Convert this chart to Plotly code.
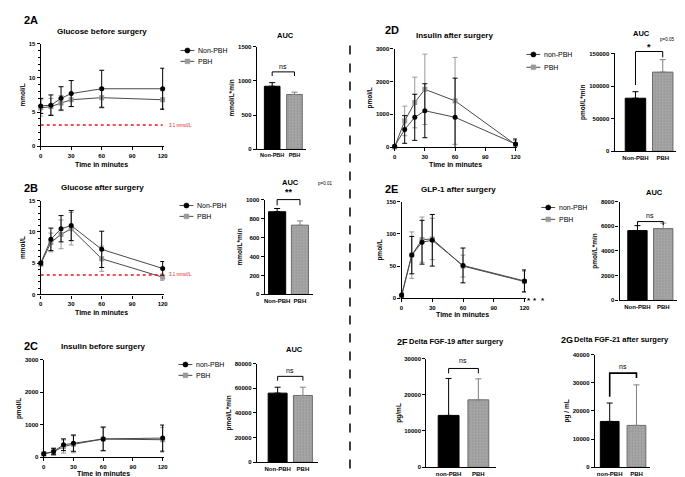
import plotly.graph_objects as go

W, H = 685, 477
FONT = "Arial"

# ---------------- data ----------------
time_min = [0, 10, 20, 30, 60, 120]
bar_labels_upper = ["Non-PBH", "PBH"]
bar_labels_lower = ["non-PBH", "PBH"]

# 2A glucose before surgery (mmol/L)
glu_pre_non = [5.9, 6.0, 7.0, 7.7, 8.4, 8.4]
glu_pre_non_sd = [1.1, 1.5, 1.7, 1.9, 2.7, 3.0]
glu_pre_pbh = [5.6, 5.8, 6.3, 6.8, 7.1, 6.8]
glu_pre_pbh_sd = [1.2, 1.2, 1.1, 1.0, 1.5, 1.3]
auc_glu_pre = [920, 800]
auc_glu_pre_sd = [53, 34]

# 2B glucose after surgery (mmol/L)
glu_post_non = [5.0, 8.8, 10.5, 11.0, 7.2, 4.15]
glu_post_non_sd = [0.3, 1.8, 2.1, 2.4, 2.9, 1.1]
glu_post_pbh = [4.85, 8.3, 9.6, 10.5, 5.7, 2.75]
glu_post_pbh_sd = [0.3, 1.5, 2.3, 2.6, 2.0, 0.5]
auc_glu_post = [872, 730]
auc_glu_post_sd = [34, 45]

# 2C insulin before surgery (pmol/L)
ins_pre_non = [110, 180, 385, 435, 565, 590]
ins_pre_non_sd = [50, 100, 180, 250, 365, 400]
ins_pre_pbh = [100, 170, 330, 400, 560, 540]
ins_pre_pbh_sd = [60, 100, 200, 260, 350, 380]
auc_ins_pre = [56000, 54100]
auc_ins_pre_sd = [4800, 6700]

# 2D insulin after surgery (pmol/L)
ins_post_non = [30, 540, 910, 1110, 910, 100]
ins_post_non_sd = [20, 420, 700, 820, 1190, 150]
ins_post_pbh = [10, 800, 1360, 1760, 1410, 80]
ins_post_pbh_sd = [10, 450, 770, 1070, 1320, 120]
auc_ins_post = [81300, 121400]
auc_ins_post_sd = [10000, 19100]

# 2E GLP-1 after surgery (pmol/L)
glp_non = [5, 67, 87, 90, 51, 27]
glp_non_sd = [3, 29, 34, 40, 27, 17]
glp_pbh = [3, 67, 91, 92, 50, 26]
glp_pbh_sd = [2, 36, 35, 32, 17, 16]
auc_glp = [5650, 5810]
auc_glp_sd = [400, 450]

# 2F / 2G delta FGF (pg/mL)
fgf19 = [14300, 18600]
fgf19_sd = [10200, 5800]
fgf21 = [16260, 14850]
fgf21_sd = [6540, 14400]

# ---------------- figure ----------------
fig = go.Figure()
layout = dict(width=W, height=H, margin=dict(l=0, r=0, t=0, b=0),
              paper_bgcolor="white", plot_bgcolor="white", showlegend=False,
              barmode="overlay", font=dict(family=FONT, color="black"))
shapes = []
annotations = []

BLACK = "black"
GREY = "#9a9a9a"


def px(x):
    return x / W


def py(y):
    return 1 - y / H


def sfx(i):
    return "" if i == 1 else str(i)


def base_axis(**kw):
    d = dict(showgrid=False, zeroline=False, showline=True, linecolor="black",
             linewidth=1.3, ticks="outside", ticklen=3, tickwidth=1.1,
             tickcolor="black",
             tickfont=dict(family=FONT, size=6, color="black", weight="bold"),
             fixedrange=True)
    d.update(kw)
    return d


def yticks(ymax, dtick):
    vals = []
    v = 0
    while v <= ymax + 1e-9:
        vals.append(v)
        v += dtick
    return dict(tickvals=vals, ticktext=[str(int(t)) for t in vals])


def text(x, y, s, size=7, bold=True, color="black", xanchor="center",
         yanchor="middle", angle=0):
    annotations.append(dict(x=px(x), y=py(y), xref="paper", yref="paper",
                            text=s, showarrow=False, xanchor=xanchor,
                            yanchor=yanchor, textangle=angle, borderpad=0,
                            font=dict(family=FONT, size=size, color=color,
                                      weight="bold" if bold else "normal")))


def ytitle(s):
    return dict(text=s, font=dict(family=FONT, size=6.5, weight="bold"),
                standoff=2)


def line_panel(i, x0, x120, yt, yb, ymax, dtick, ylab, series, minor=None,
               xlab_y=None):
    xr1 = 121.5
    x1 = x0 + (x120 - x0) * xr1 / 120
    s = sfx(i)
    xa = base_axis(domain=[px(x0), px(x1)], range=[0, xr1], anchor="y" + s,
                   tickvals=[0, 30, 60, 90, 120])
    ya = base_axis(domain=[py(yb), py(yt)], range=[0, ymax], anchor="x" + s,
                   title=ytitle(ylab), **yticks(ymax, dtick))
    if minor:
        ya["minor"] = dict(dtick=minor, ticks="outside", ticklen=1.5,
                           tickcolor="black", tickwidth=0.8)
    layout["xaxis" + s] = xa
    layout["yaxis" + s] = ya
    if xlab_y is not None:
        text((x0 + x120) / 2, xlab_y, "Time in minutes", size=7)
    for (name, y, sd, mcolor, symbol, ecolor) in series:
        fig.add_trace(go.Scatter(
            x=time_min, y=y, name=name, mode="lines+markers",
            error_y=dict(type="data", array=sd, color=ecolor, thickness=1,
                         width=2.5),
            line=dict(color="#4a4a4a", width=1),
            marker=dict(color=mcolor, symbol=symbol, size=5),
            xaxis="x" + s, yaxis="y" + s, cliponaxis=False))
    return dict(x0=x0, x1=x1, yt=yt, yb=yb, ymax=ymax, xr1=xr1)


def bar_panel(i, left, right, c0, c1, yt, yb, ymax, dtick, ylab, labels,
              vals, sds, width=0.75, lsize=6):
    sp = c1 - c0
    r0 = -(c0 - left) / sp
    r1 = 1 + (right - c1) / sp
    s = sfx(i)
    layout["xaxis" + s] = base_axis(domain=[px(left), px(right)],
                                    range=[r0, r1], anchor="y" + s,
                                    tickvals=[0, 1], ticktext=labels,
                                    ticks="", tickangle=0,
                                    tickfont=dict(family=FONT, size=lsize,
                                                  color="black",
                                                  weight="bold"))
    layout["yaxis" + s] = base_axis(domain=[py(yb), py(yt)], range=[0, ymax],
                                    anchor="x" + s, title=ytitle(ylab),
                                    **yticks(ymax, dtick))
    styles = [
        dict(color=BLACK, line=dict(color=BLACK, width=1)),
        dict(color="#a8a8a8", line=dict(color="#6a6a6a", width=1),
             pattern=dict(shape=".", fillmode="overlay", fgcolor="#7a7a7a",
                          size=3, solidity=0.3)),
    ]
    ecolors = [BLACK, "#808080"]
    for k in range(2):
        fig.add_trace(go.Bar(
            x=[k], y=[vals[k]], name=labels[k], width=width,
            marker=styles[k],
            error_y=dict(type="data", symmetric=False, array=[sds[k]],
                         arrayminus=[0], color=ecolors[k], thickness=1,
                         width=3),
            xaxis="x" + s, yaxis="y" + s, cliponaxis=False))
    return dict(c0=c0, sp=sp, yt=yt, yb=yb, ymax=ymax)


def bracket(p, ytop, yl, yr, label, label_y, lw=1.0, size=7):
    def Y(v):
        return p["yb"] - v / p["ymax"] * (p["yb"] - p["yt"])
    xl = p["c0"]
    xr = p["c0"] + p["sp"]
    path = "M {},{} L {},{} L {},{} L {},{}".format(
        px(xl), py(Y(yl)), px(xl), py(Y(ytop)), px(xr), py(Y(ytop)),
        px(xr), py(Y(yr)))
    shapes.append(dict(type="path", path=path, xref="paper", yref="paper",
                       line=dict(color="black", width=lw)))
    text((xl + xr) / 2, Y(label_y), label, size=size, bold=False)


def legend(mx, rows):
    for (label, y, kind) in rows:
        shapes.append(dict(type="line", xref="paper", yref="paper",
                           x0=px(mx - 7), x1=px(mx + 7), y0=py(y), y1=py(y),
                           line=dict(color="#4a4a4a", width=1)))
        if kind == "non":
            shapes.append(dict(type="circle", xref="paper", yref="paper",
                               x0=px(mx - 2.6), x1=px(mx + 2.6),
                               y0=py(y + 2.6), y1=py(y - 2.6),
                               fillcolor="black", line=dict(color="black", width=0.5)))
        else:
            shapes.append(dict(type="rect", xref="paper", yref="paper",
                               x0=px(mx - 2.4), x1=px(mx + 2.4),
                               y0=py(y + 2.4), y1=py(y - 2.4),
                               fillcolor=GREY, line=dict(color=GREY, width=0.5)))
        text(mx + 10, y, label, size=7, bold=False, xanchor="left")


def red_line(p, axis_i, value, label_x, label_y):
    s = sfx(axis_i)
    shapes.append(dict(type="line", xref="x" + s, yref="y" + s, x0=0, x1=120,
                       y0=value, y1=value,
                       line=dict(color="#e3191c", width=1.6, dash="dot")))
    text(label_x, label_y, "3.1 mmol/L", size=4.5, bold=False,
         color="#e3191c", xanchor="left")


# ---- 2A ----
pA = line_panel(1, 31, 154, 33, 137, 15, 5, "mmol/L", [
    ("PBH", glu_pre_pbh, glu_pre_pbh_sd, GREY, "square", GREY),
    ("Non-PBH", glu_pre_non, glu_pre_non_sd, BLACK, "circle", BLACK)],
    minor=1, xlab_y=155)
red_line(pA, 1, 3.1, 159, 116)
text(13, 9, "2A", size=11, xanchor="left")
text(93, 21, "Glucose before surgery", size=8)
legend(179, [("Non-PBH", 40, "non"), ("PBH", 51, "pbh")])
bA = bar_panel(2, 249, 299, 264.5, 287, 36, 140, 1500, 500, "mmol/L*min",
               bar_labels_upper, auc_glu_pre, auc_glu_pre_sd, width=0.7,
               lsize=5.5)
text(278, 25, "AUC", size=7.5)
bracket(bA, 1130, 1070, 1070, "ns", 1215)

# ---- 2B ----
pB = line_panel(3, 31, 154, 192, 287, 15, 5, "mmol/L", [
    ("PBH", glu_post_pbh, glu_post_pbh_sd, GREY, "square", GREY),
    ("Non-PBH", glu_post_non, glu_post_non_sd, BLACK, "circle", BLACK)],
    minor=1, xlab_y=305)
red_line(pB, 3, 3.1, 159, 267)
text(13, 179, "2B", size=11, xanchor="left")
text(93, 179, "Glucose after surgery", size=8)
legend(178, [("Non-PBH", 197, "non"), ("PBH", 208, "pbh")])
bB = bar_panel(4, 257, 306, 269.5, 292.5, 191, 287, 1000, 200, "mmol/L*min",
               bar_labels_upper, auc_glu_post, auc_glu_post_sd)
text(283, 174, "AUC", size=7.5)
text(310, 175, "p=0.01", size=4.5, bold=False, xanchor="left")
bracket(bB, 1000, 940, 940, "<b>**</b>", 1080, size=9)

# ---- 2C ----
pC = line_panel(5, 34, 154, 353, 452, 3000, 1000, "pmol/L", [
    ("PBH", ins_pre_pbh, ins_pre_pbh_sd, GREY, "square", GREY),
    ("non-PBH", ins_pre_non, ins_pre_non_sd, BLACK, "circle", BLACK)],
    xlab_y=468)
text(13, 339, "2C", size=11, xanchor="left")
text(94, 340, "Insulin before surgery", size=8)
legend(177, [("non-PBH", 358, "non"), ("PBH", 369, "pbh")])
bC = bar_panel(6, 249, 311, 270, 295.5, 357, 457, 80000, 20000, "pmol/L*min",
               bar_labels_upper, auc_ins_pre, auc_ins_pre_sd)
text(287, 343, "AUC", size=7.5)
bracket(bC, 69600, 66100, 66100, "ns", 74400)

# ---- 2D ----
pD = line_panel(7, 388, 510, 38, 138, 3000, 1000, "pmol/L", [
    ("PBH", ins_post_pbh, ins_post_pbh_sd, GREY, "square", GREY),
    ("non-PBH", ins_post_non, ins_post_non_sd, BLACK, "circle", BLACK)],
    xlab_y=155)
text(377, 19, "2D", size=11, xanchor="left")
text(448, 25, "Insulin after surgery", size=8)
legend(528, [("non-PBH", 44, "non"), ("PBH", 57, "pbh")])
bD = bar_panel(8, 610, 672, 631, 658.5, 43, 142, 150000, 50000, "pmol/L*min",
               bar_labels_upper, auc_ins_post, auc_ins_post_sd)
text(637, 23, "AUC", size=7.5)
text(655, 29, "p=0.05", size=4.5, bold=False, xanchor="left")
bracket(bD, 153000, 101500, 144000, "<b>*</b>", 160500, size=9)

# ---- 2E ----
pE = line_panel(9, 395, 519, 193, 291, 150, 50, "pmol/L", [
    ("PBH", glp_pbh, glp_pbh_sd, GREY, "square", GREY),
    ("non-PBH", glp_non, glp_non_sd, BLACK, "circle", BLACK)],
    xlab_y=307)
text(377, 180, "2E", size=11, xanchor="left")
text(452, 181, "GLP-1 after surgery", size=8)
legend(543, [("non-PBH", 199, "non"), ("PBH", 211, "pbh")])
for xs in (524, 530, 538):
    text(xs, 293, "*", size=8)
bE = bar_panel(10, 615, 674, 633, 659, 193, 293, 8000, 2000, "pmol/L*min",
               bar_labels_upper, auc_glp, auc_glp_sd)
text(650, 184, "AUC", size=7.5)
bracket(bE, 6380, 5980, 6100, "ns", 6850)

# ---- 2F ----
bF = bar_panel(11, 420, 490, 442.5, 472.5, 352, 462, 30000, 10000, "pg/mL",
               bar_labels_lower, fgf19, fgf19_sd, width=0.7)
text(389, 335, "2F", size=9, xanchor="left")
text(402, 335, "Delta FGF-19 after surgery", size=7.5, xanchor="left")
bracket(bF, 27270, 25900, 25900, "ns", 29600)

# ---- 2G ----
bG = bar_panel(12, 590, 646, 605, 632, 348, 462, 40000, 10000, "pg / mL",
               bar_labels_lower, fgf21, fgf21_sd, width=0.7)
text(555, 333, "2G", size=9, xanchor="left")
text(568, 333, "Delta FGF-21 after surgery", size=7.5, xanchor="left")
bracket(bG, 33440, 25000, 31700, "ns", 35900, lw=1.6)

# divider
shapes.append(dict(type="line", xref="paper", yref="paper", x0=px(343),
                   x1=px(343), y0=py(35), y1=py(477),
                   line=dict(color="black", width=1.5, dash="dash")))

layout["shapes"] = shapes
layout["annotations"] = annotations
fig.update_layout(**layout)
fig.write_html("out.html")
